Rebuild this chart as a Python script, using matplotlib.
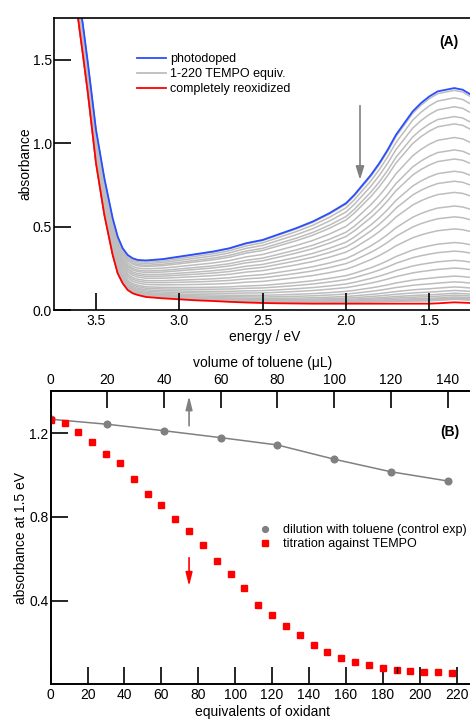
import numpy as np
import matplotlib
matplotlib.use("Agg")
import matplotlib.pyplot as plt

plt.rcParams['font.family'] = ['Liberation Sans', 'DejaVu Sans']
plt.rcParams['font.size'] = 10

# ---- panel A: spectra (energy / eV) ----
energy = [3.62, 3.60, 3.58, 3.55, 3.50, 3.45, 3.40, 3.37, 3.34, 3.31,
          3.28, 3.25, 3.20, 3.10, 3.00, 2.90, 2.80, 2.70, 2.60, 2.50,
          2.40, 2.30, 2.20, 2.10, 2.00, 1.95, 1.90, 1.85, 1.80, 1.75,
          1.70, 1.65, 1.60, 1.55, 1.50, 1.45, 1.40, 1.35, 1.30, 1.25, 1.22]
abs_photodoped = [1.95, 1.84, 1.72, 1.49, 1.08, 0.79, 0.55, 0.44, 0.37, 0.33,
                  0.31, 0.30, 0.297, 0.305, 0.32, 0.335, 0.35, 0.37, 0.40, 0.42,
                  0.455, 0.49, 0.53, 0.58, 0.64, 0.69, 0.75, 0.81, 0.88, 0.96,
                  1.05, 1.12, 1.19, 1.24, 1.28, 1.31, 1.32, 1.33, 1.32, 1.29, 1.27]
abs_reoxidized = [1.85, 1.69, 1.54, 1.31, 0.88, 0.57, 0.33, 0.22, 0.16, 0.12,
                  0.10, 0.09, 0.078, 0.070, 0.064, 0.058, 0.054, 0.049, 0.045, 0.042,
                  0.040, 0.039, 0.038, 0.038, 0.038, 0.038, 0.038, 0.038, 0.038, 0.038,
                  0.038, 0.038, 0.038, 0.038, 0.038, 0.040, 0.043, 0.046, 0.044, 0.042, 0.042]

# ---- panel B: absorbance at 1.5 eV ----
equiv_tempo = [0, 7.5, 15, 22.5, 30, 37.5, 45, 52.5, 60, 67.5,
               75, 82.5, 90, 97.5, 105, 112.5, 120, 127.5, 135, 142.5,
               150, 157.5, 165, 172.5, 180, 187.5, 195, 202.5, 210, 217.5]
abs_tempo = [1.264, 1.251, 1.208, 1.157, 1.101, 1.059, 0.981, 0.910, 0.858, 0.788,
             0.731, 0.667, 0.589, 0.527, 0.458, 0.380, 0.331, 0.278, 0.234, 0.188,
             0.155, 0.126, 0.106, 0.090, 0.079, 0.069, 0.063, 0.061, 0.057, 0.055]
vol_toluene = [0, 20, 40, 60, 80, 100, 120, 140]
abs_toluene = [1.267, 1.243, 1.212, 1.179, 1.144, 1.076, 1.016, 0.972]
err_equiv = [187.5]
err_abs = [0.069]
err_size = [0.016]

E = np.array(energy)
blue = np.array(abs_photodoped)
red = np.array(abs_reoxidized)
i15 = energy.index(1.50)
# each titration spectrum scaled to its own absorbance at 1.5 eV (panel B)
frac = (np.array(abs_tempo) - red[i15]) / (abs_tempo[0] - red[i15])

fig = plt.figure(figsize=(4.7, 7.22), dpi=100)
W, H = 470.0, 722.0

# ================= panel A =================
axA = fig.add_axes([54 / W, (H - 310) / H, (475 - 54) / W, (310 - 18.3) / H])
for f in frac[1:]:
    axA.plot(E, red + f * (blue - red), color='#bdbdbd', lw=1.1, zorder=1)
axA.plot(E, red, color='#ff0000', lw=1.3, zorder=1.2)
axA.plot(E, blue, color='#2a4dff', lw=1.3, zorder=1.3)
axA.set_xlim(3.752, 1.226)
axA.set_ylim(0, 1.748)
axA.set_xticks([3.5, 3.0, 2.5, 2.0, 1.5])
axA.set_yticks([0.0, 0.5, 1.0, 1.5])
axA.tick_params(direction='in', length=12, width=1.2, pad=3, labelsize=10,
                color='black')
axA.tick_params(axis='y', pad=1.5)
axA.spines['right'].set_visible(False)
for s in ['left', 'top', 'bottom']:
    axA.spines[s].set_linewidth(1.2)
axA.set_xlabel('energy / eV', labelpad=1)
axA.set_ylabel('absorbance', labelpad=0)

hA = [plt.Line2D([], [], color='#2a4dff', lw=1.3),
      plt.Line2D([], [], color='#bdbdbd', lw=1.3),
      plt.Line2D([], [], color='#ff0000', lw=1.3)]
axA.legend(hA, ['photodoped', '1-220 TEMPO equiv.', 'completely reoxidized'],
           loc='upper left', bbox_to_anchor=(137 / W, (H - 53) / H),
           bbox_transform=fig.transFigure, frameon=False, fontsize=9,
           borderpad=0, borderaxespad=0, handlelength=2.3, handletextpad=0.35,
           labelspacing=0.25)
axA.annotate('', xy=(1.916, 0.78), xytext=(1.916, 1.224),
             arrowprops=dict(arrowstyle='-|>,head_length=0.8,head_width=0.25',
                             color='#808080', lw=1.2, shrinkA=0, shrinkB=0))
axA.text(0.939, 0.918, '(A)', transform=axA.transAxes, ha='center', va='center',
         fontsize=10, fontweight='bold')

# ================= panel B =================
axB = fig.add_axes([50.7 / W, (H - 684.3) / H, (475 - 50.7) / W, (684.3 - 391) / H])
axT = axB.twiny()
axB.set_zorder(axT.get_zorder() + 1)
axB.patch.set_visible(False)

axT.plot(vol_toluene, abs_toluene, color='#808080', lw=1.1, marker='o', ms=4.8)
axB.plot(equiv_tempo, abs_tempo, ls='none', marker='s', ms=4.8, color='#ff0000')
axB.errorbar(err_equiv, err_abs, yerr=err_size, fmt='none', ecolor='black', elinewidth=1)

axB.set_xlim(0, 230.0)
axT.set_xlim(0, 149.7)
axB.set_ylim(0, 1.402)
axB.set_xticks(np.arange(0, 221, 20))
axT.set_xticks(np.arange(0, 141, 20))
axB.set_yticks([0.4, 0.8, 1.2])
for ax in (axB, axT):
    ax.tick_params(direction='in', length=12, width=1.2, pad=3, labelsize=10)
    ax.spines['right'].set_visible(False)
    for s in ['left', 'top', 'bottom']:
        ax.spines[s].set_linewidth(1.2)
axB.tick_params(axis='y', pad=1.5)
axB.set_xlabel('equivalents of oxidant', labelpad=2)
axB.set_ylabel('absorbance at 1.5 eV', labelpad=1)
axT.set_xlabel('volume of toluene (μL)', labelpad=4)

axB.legend([plt.Line2D([], [], ls='none', marker='o', ms=4.2, color='#808080'),
            plt.Line2D([], [], ls='none', marker='s', ms=4.2, color='#ff0000')],
           ['dilution with toluene (control exp)', 'titration against TEMPO'],
           loc='upper left', bbox_to_anchor=(259 / W, (H - 524) / H),
           bbox_transform=fig.transFigure, frameon=False, fontsize=9,
           borderpad=0, borderaxespad=0, handlelength=1.0, handletextpad=0.95,
           labelspacing=0.2, numpoints=1)

axB.annotate('', xy=(75, 1.378), xytext=(75, 1.236),
             arrowprops=dict(arrowstyle='-|>,head_length=0.8,head_width=0.2',
                             color='#808080', lw=1.2, shrinkA=0, shrinkB=0))
axB.annotate('', xy=(75, 0.469), xytext=(75, 0.605),
             arrowprops=dict(arrowstyle='-|>,head_length=0.8,head_width=0.2',
                             color='#ff0000', lw=1.2, shrinkA=0, shrinkB=0))
axB.text(0.94, 0.861, '(B)', transform=axB.transAxes, ha='center', va='center',
         fontsize=10, fontweight='bold')

fig.savefig('out.png', dpi=100)
